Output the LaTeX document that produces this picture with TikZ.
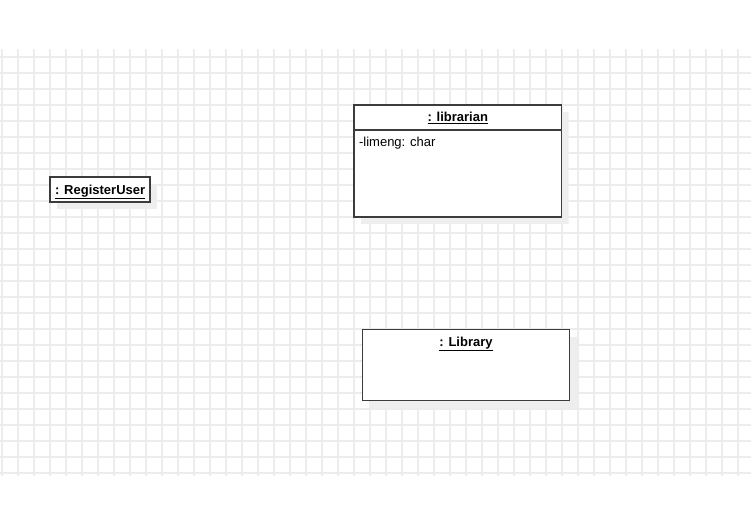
\documentclass[tikz,border=0pt]{standalone}
\usepackage{fontspec}
\setmainfont{Liberation Sans}
\usetikzlibrary{shapes.multipart}
\usetikzlibrary{shadows}
\definecolor{gridgray}{RGB}{236,236,236}
\definecolor{edgegray}{RGB}{60,60,60}
\definecolor{shadegray}{RGB}{238,238,238}

\begin{document}
\begin{tikzpicture}[x=1pt,y=-1pt,
    gridline/.style={draw=gridgray, line width=1.7pt},
    objbox/.style={rectangle split, rectangle split parts=#1, draw=edgegray, line width=1.6pt, fill=white,
        inner ysep=0pt, inner xsep=5pt, anchor=north west, rectangle split part align={center,left},
        drop shadow={shadow xshift=7pt, shadow yshift=-7pt, fill=shadegray, opacity=1},
        font=\fontsize{13pt}{15pt}\selectfont}]
    \useasboundingbox (0,0) rectangle (751,525);
    \foreach \gx in {0,...,46}
        \draw[gridline] (1.7+16*\gx,49) -- (1.7+16*\gx,475.7);
    \foreach \gy in {0,...,26}
        \draw[gridline] (0,56.7+16*\gy) -- (751,56.7+16*\gy);

    \node[objbox=1, minimum width=98.4pt] (registeruser) at (49.3,176) {%
        \rule[-7pt]{0pt}{23.4pt}\underline{\textbf{: RegisterUser}}%
    };
    \node[objbox=2, minimum width=207.4pt] (librarian) at (353.3,104.3) {%
        \rule[-7pt]{0pt}{23pt}\underline{\textbf{: librarian}}%
    \nodepart{two}\rule[-69.6pt]{0pt}{85.8pt}-limeng: char%
    };
    \node[objbox=1, minimum width=207pt] (library) at (361.7,328.7) {%
        \rule[-53.3pt]{0pt}{69.5pt}\underline{\textbf{: Library}}%
    };
\end{tikzpicture}
\end{document}
